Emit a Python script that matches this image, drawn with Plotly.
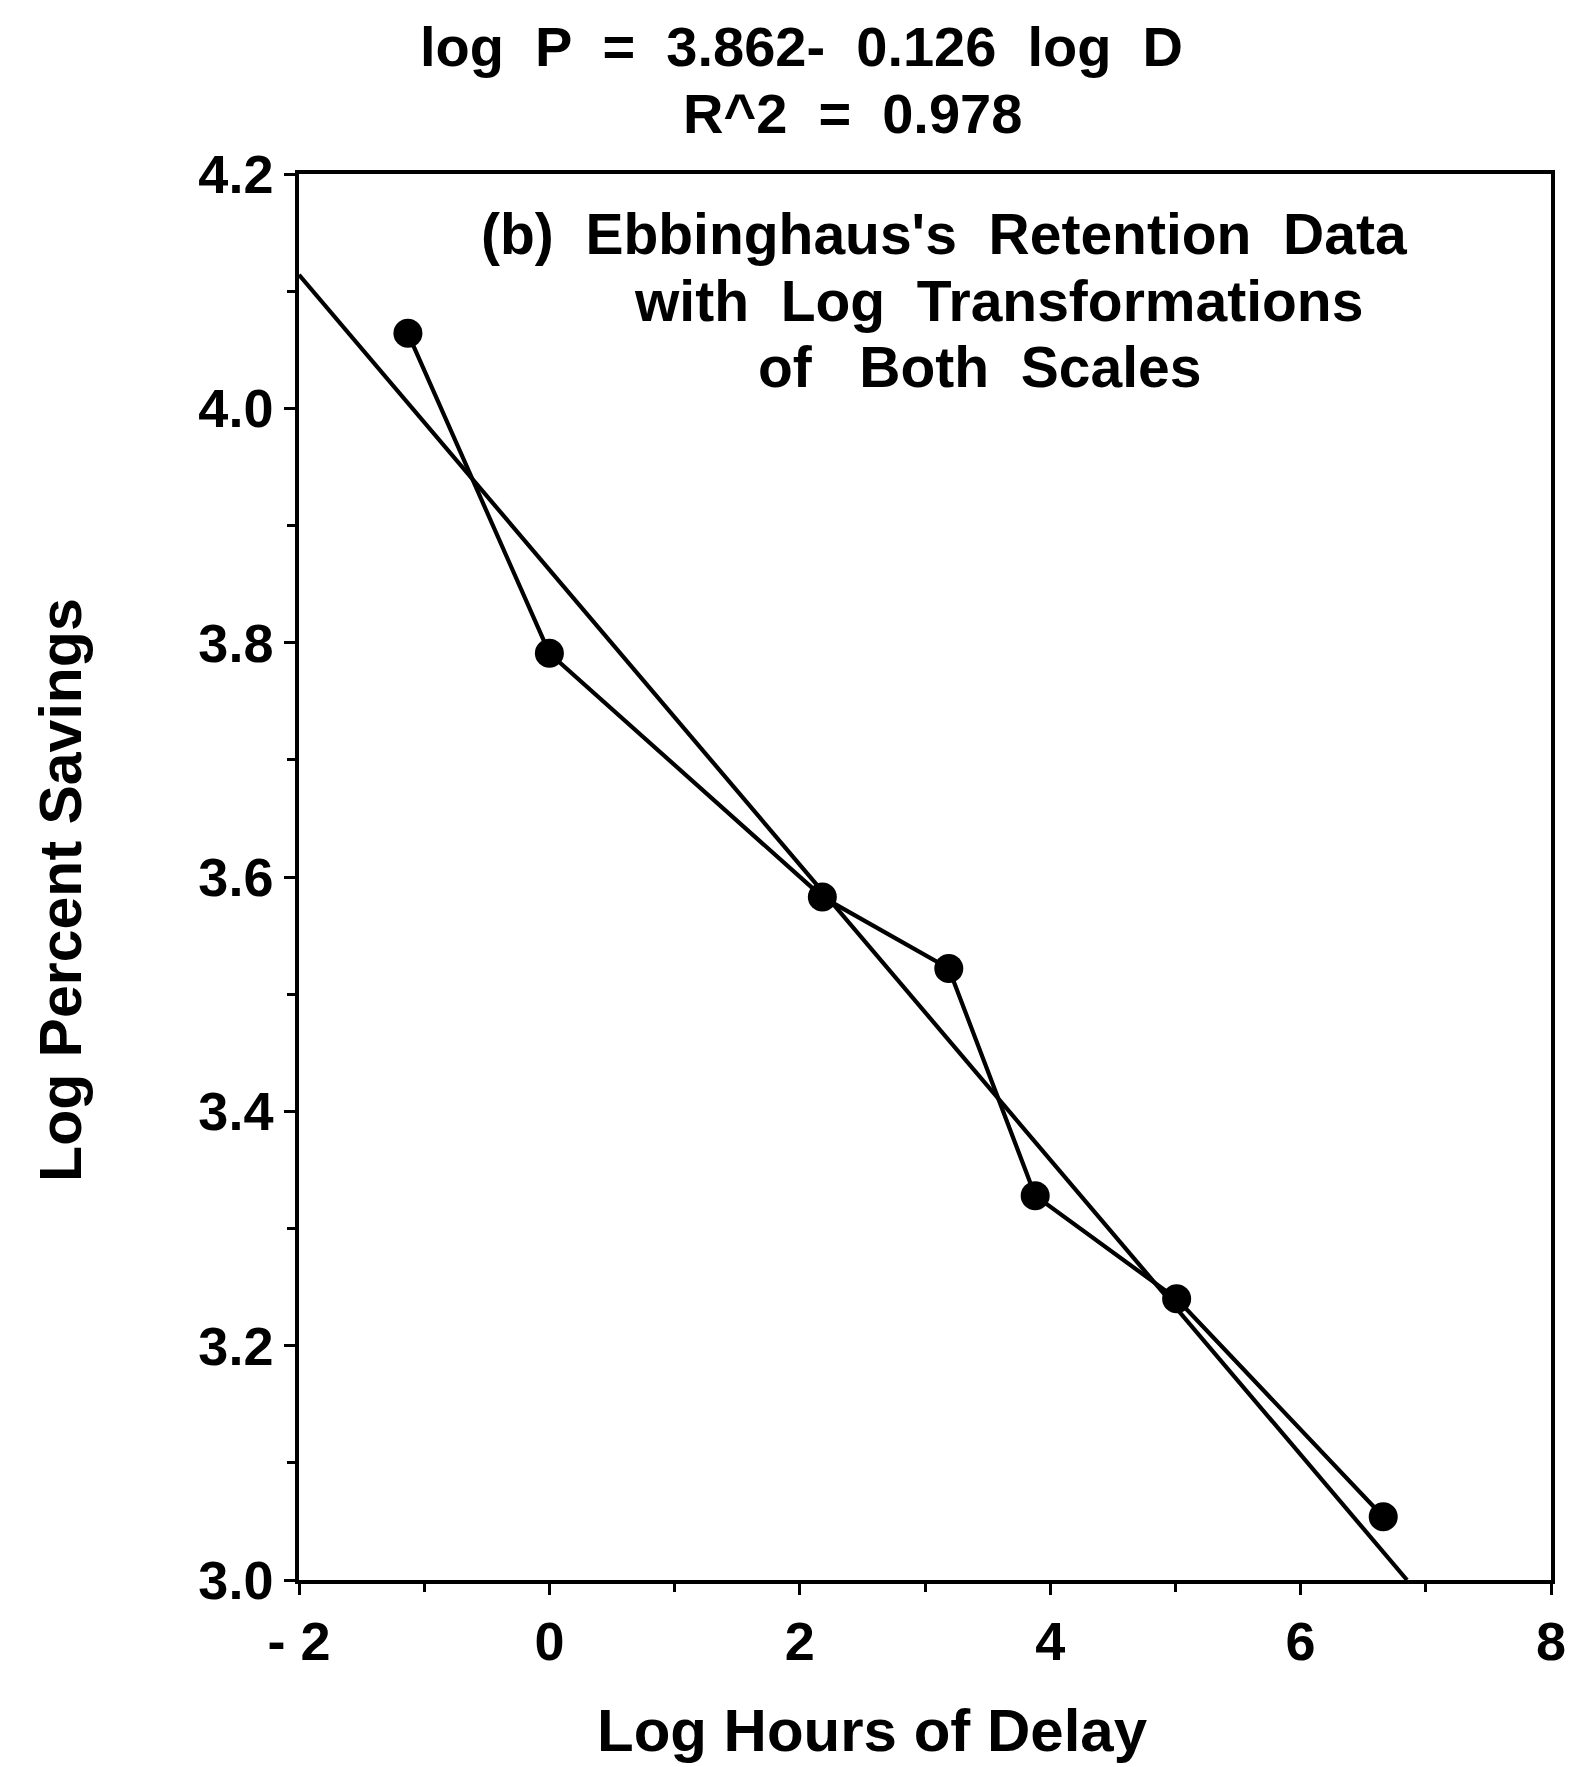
import plotly.graph_objects as go

# Data (natural-log transformed Ebbinghaus savings data)
log_delay = [-1.13, 0.0, 2.18, 3.19, 3.88, 5.01, 6.66]
log_savings = [4.064, 3.791, 3.583, 3.522, 3.328, 3.240, 3.054]

# Regression line endpoints (log P = 3.862 - 0.126 log D)
fit_x = [-2.0, 6.85]
fit_y = [4.114, 3.0]

x_ticks = [-2, 0, 2, 4, 6, 8]
x_ticktext = ["- 2", "0", "2", "4", "6", "8"]
y_ticks = [3.0, 3.2, 3.4, 3.6, 3.8, 4.0, 4.2]
y_ticktext = ["3.0", "3.2", "3.4", "3.6", "3.8", "4.0", "4.2"]

FONT = "Liberation Sans"
W, H = 1578, 1767
L, R, T, B = 299, 1561, 174, 1580

def px(xp):
    return (xp - L) / (R - L)

def py(yp):
    return (B - yp) / (B - T)

fig = go.Figure()
fig.add_trace(go.Scatter(x=fit_x, y=fit_y, mode="lines",
                         line=dict(color="black", width=4.2), showlegend=False,
                         hoverinfo="skip"))
fig.add_trace(go.Scatter(x=log_delay, y=log_savings, mode="lines+markers",
                         line=dict(color="black", width=4.2),
                         marker=dict(color="black", size=29), showlegend=False))

axis_common = dict(showgrid=False, zeroline=False, showline=True, linecolor="black",
                   linewidth=3.5, mirror=True, ticks="outside", ticklen=11, tickwidth=3,
                   tickcolor="black",
                   tickfont=dict(family=FONT, size=54, color="black", weight="bold"))

fig.update_xaxes(range=[-2, 8], tickvals=x_ticks, ticktext=x_ticktext,
                 minor=dict(dtick=1, tick0=-1, ticks="outside", ticklen=8, tickwidth=2.5, tickcolor="black"),
                 **axis_common)
fig.update_yaxes(range=[3.0, 4.2], tickvals=y_ticks, ticktext=y_ticktext,
                 minor=dict(dtick=0.1, tick0=3.1, ticks="outside", ticklen=8, tickwidth=2.5, tickcolor="black"),
                 **axis_common)

def ann(text, x, y, size, angle=0):
    fig.add_annotation(text=text, x=x, y=y, xref="paper", yref="paper",
                       showarrow=False, textangle=angle,
                       font=dict(family=FONT, size=size, color="black", weight="bold"),
                       xanchor="center", yanchor="middle")

ann("log  P  =  3.862-  0.126  log  D", px(806), py(47), 56)
ann("R^2  =  0.978", px(857), py(113), 56)
ann("(b)  Ebbinghaus's  Retention  Data", px(950), py(234), 57)
ann("with  Log  Transformations", px(1004), py(301), 57)
ann("of   Both  Scales", px(985), py(367), 57)
ann("Log Hours of Delay", px(877), py(1730), 60)
ann("Log Percent Savings", px(59), py(890), 59, angle=-90)

fig.update_layout(width=W, height=H, margin=dict(l=L, r=W - R, t=T, b=H - B),
                  plot_bgcolor="white", paper_bgcolor="white")

fig.write_html("out.html")
